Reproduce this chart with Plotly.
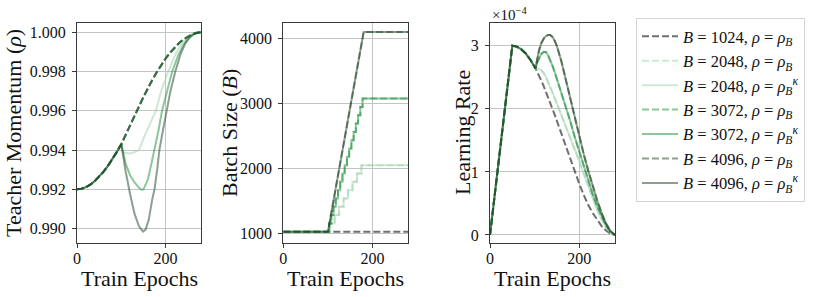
import plotly.graph_objects as go

# ---------------- data ----------------
# Panel 1: teacher momentum vs epochs
MOM_EPOCHS = [0, 10, 20, 30, 40, 50, 60, 70, 80, 90, 100, 110, 120, 130, 140, 150,
              160, 170, 180, 190, 200, 210, 220, 230, 240, 250, 260, 270, 280]
MOM_RHO_B = [0.99200, 0.99203, 0.99211, 0.99224, 0.99242, 0.99264, 0.99290, 0.99320,
             0.99354, 0.99391, 0.99430, 0.99476, 0.99523, 0.99572, 0.99622, 0.99670,
             0.99715, 0.99757, 0.99796, 0.99832, 0.99866, 0.99895, 0.99921, 0.99944,
             0.99963, 0.99978, 0.99990, 0.99997, 1.00000]

MOM_PRE_EPOCHS = [0, 10, 20, 30, 40, 50, 60, 70, 80, 90, 100]
MOM_PRE = [0.99200, 0.99203, 0.99211, 0.99224, 0.99242, 0.99264, 0.99290, 0.99320,
           0.99354, 0.99391, 0.99430]

MOM_K2048_EPOCHS = [104, 110, 120, 130, 140, 150, 160, 170, 178, 190, 206, 220, 230,
                    240, 250, 260, 270, 280]
MOM_K2048 = [0.99392, 0.99385, 0.99383, 0.99390, 0.99400, 0.99458, 0.99510, 0.99558,
             0.99600, 0.99700, 0.99800, 0.99875, 0.99920, 0.99953, 0.99975, 0.99990,
             0.99997, 1.00000]

MOM_K3072_EPOCHS = [110, 120, 130, 140, 146, 150, 160, 168, 175, 184, 192, 203, 215,
                    228, 240, 250, 260, 270, 280]
MOM_K3072 = [0.99330, 0.99272, 0.99235, 0.99208, 0.99198, 0.99200, 0.99250, 0.99330,
             0.99400, 0.99500, 0.99600, 0.99700, 0.99800, 0.99880, 0.99935, 0.99965,
             0.99985, 0.99996, 1.00000]

MOM_K4096_EPOCHS = [105, 110, 120, 130, 140, 149, 155, 162, 170, 175, 181, 186, 194,
                    202, 211, 222, 234, 245, 255, 265, 280]
MOM_K4096 = [0.99355, 0.99290, 0.99175, 0.99075, 0.99012, 0.98985, 0.98995, 0.99045,
             0.99150, 0.99200, 0.99300, 0.99400, 0.99500, 0.99600, 0.99700, 0.99800,
             0.99890, 0.99945, 0.99975, 0.99992, 1.00000]

# Panel 2: batch size vs epochs (step changes)
BS1024_EPOCHS = [0, 280]
BS1024 = [1024, 1024]
BS2048_EPOCHS = [0, 105, 115, 125, 135, 145, 155, 165, 175, 280]
BS2048 = [1024, 1152, 1280, 1408, 1536, 1664, 1792, 1920, 2048, 2048]
BS3072_EPOCHS = [0, 102.5, 107.5, 112.5, 117.5, 122.5, 127.5, 132.5, 137.5, 142.5,
                 147.5, 152.5, 157.5, 162.5, 167.5, 172.5, 177.5, 280]
BS3072 = [1024, 1152, 1280, 1408, 1536, 1664, 1792, 1920, 2048, 2176, 2304, 2432,
          2560, 2688, 2816, 2944, 3072, 3072]
BS4096_EPOCHS = [0, 100, 180, 280]
BS4096 = [1024, 1024, 4096, 4096]

# Panel 3: learning rate (in units of 1e-4) vs epochs
LR_EPOCHS = [0, 50, 60, 70, 80, 90, 100, 102, 105, 110, 115, 120, 125, 130, 135, 140,
             145, 150, 160, 170, 180, 190, 200, 210, 220, 230, 240, 250, 260, 270, 280]
LR1024 = [0.0, 3.000, 2.986, 2.944, 2.876, 2.782, 2.664, 2.637, 2.596, 2.524, 2.447,
          2.365, 2.279, 2.190, 2.097, 2.002, 1.905, 1.805, 1.602, 1.398, 1.195, 0.998,
          0.810, 0.635, 0.476, 0.350, 0.240, 0.140, 0.070, 0.020, 0.0]
LR2048 = [0.0, 3.000, 2.986, 2.944, 2.876, 2.782, 2.664, 2.637, 2.630, 2.630, 2.610,
          2.570, 2.510, 2.430, 2.350, 2.260, 2.170, 2.080, 1.900, 1.720, 1.550, 1.360,
          1.170, 0.970, 0.770, 0.580, 0.400, 0.250, 0.120, 0.040, 0.0]
LR3072 = [0.0, 3.000, 2.986, 2.944, 2.876, 2.782, 2.664, 2.637, 2.720, 2.810, 2.870,
          2.900, 2.900, 2.850, 2.770, 2.680, 2.580, 2.470, 2.250, 2.030, 1.800, 1.550,
          1.330, 1.080, 0.860, 0.650, 0.460, 0.290, 0.150, 0.050, 0.0]
LR4096 = [0.0, 3.000, 2.986, 2.944, 2.876, 2.782, 2.664, 2.637, 2.760, 2.930, 3.040,
          3.110, 3.150, 3.170, 3.170, 3.140, 3.080, 2.990, 2.750, 2.450, 2.150, 1.830,
          1.530, 1.280, 1.020, 0.780, 0.550, 0.350, 0.180, 0.060, 0.0]

LEGEND_LABELS = [
    "<i>B</i> = 1024, <i>ρ</i> = <i>ρ<sub>B</sub></i>",
    "<i>B</i> = 2048, <i>ρ</i> = <i>ρ<sub>B</sub></i>",
    "<i>B</i> = 2048, <i>ρ</i> = <i>ρ<sub>B</sub><sup>κ</sup></i>",
    "<i>B</i> = 3072, <i>ρ</i> = <i>ρ<sub>B</sub></i>",
    "<i>B</i> = 3072, <i>ρ</i> = <i>ρ<sub>B</sub><sup>κ</sup></i>",
    "<i>B</i> = 4096, <i>ρ</i> = <i>ρ<sub>B</sub></i>",
    "<i>B</i> = 4096, <i>ρ</i> = <i>ρ<sub>B</sub><sup>κ</sup></i>",
]

# ---------------- styling ----------------
W, H = 822, 297
FONT = "Liberation Serif"
C1024 = "rgba(55,55,55,0.72)"
C2048 = "rgba(159,209,173,0.5)"
C3072 = "rgba(27,141,57,0.5)"
C4096 = "rgba(27,63,33,0.5)"
DASH = "7px,3px"
LW = 2


def px_x(p):
    return p / W


def px_y(p):
    return 1 - p / H


DOMS_X = [(77, 201), (283.3, 408.3), (490, 615)]
DOM_Y = (px_y(243), px_y(23))

fig = go.Figure()


def mom_k(ep, vals):
    return MOM_PRE_EPOCHS + ep, MOM_PRE + vals


mom_series = [
    (MOM_EPOCHS, MOM_RHO_B, C1024, DASH),
    (MOM_EPOCHS, MOM_RHO_B, C2048, DASH),
    (*mom_k(MOM_K2048_EPOCHS, MOM_K2048), C2048, "solid"),
    (MOM_EPOCHS, MOM_RHO_B, C3072, DASH),
    (*mom_k(MOM_K3072_EPOCHS, MOM_K3072), C3072, "solid"),
    (MOM_EPOCHS, MOM_RHO_B, C4096, DASH),
    (*mom_k(MOM_K4096_EPOCHS, MOM_K4096), C4096, "solid"),
]
bs_series = [
    (BS1024_EPOCHS, BS1024, C1024, DASH, "linear"),
    (BS2048_EPOCHS, BS2048, C2048, DASH, "hv"),
    (BS2048_EPOCHS, BS2048, C2048, "solid", "hv"),
    (BS3072_EPOCHS, BS3072, C3072, DASH, "hv"),
    (BS3072_EPOCHS, BS3072, C3072, "solid", "hv"),
    (BS4096_EPOCHS, BS4096, C4096, DASH, "linear"),
    (BS4096_EPOCHS, BS4096, C4096, "solid", "linear"),
]
lr_series = [
    (LR_EPOCHS, LR1024, C1024, DASH),
    (LR_EPOCHS, LR2048, C2048, DASH),
    (LR_EPOCHS, LR2048, C2048, "solid"),
    (LR_EPOCHS, LR3072, C3072, DASH),
    (LR_EPOCHS, LR3072, C3072, "solid"),
    (LR_EPOCHS, LR4096, C4096, DASH),
    (LR_EPOCHS, LR4096, C4096, "solid"),
]

for i, (x, y, c, d) in enumerate(mom_series):
    fig.add_trace(go.Scatter(x=x, y=y, mode="lines", name=LEGEND_LABELS[i],
                             line=dict(color=c, dash=d, width=LW),
                             xaxis="x", yaxis="y", showlegend=True))
for i, (x, y, c, d, s) in enumerate(bs_series):
    fig.add_trace(go.Scatter(x=x, y=y, mode="lines", name=LEGEND_LABELS[i],
                             line=dict(color=c, dash=d, width=LW, shape=s),
                             xaxis="x2", yaxis="y2", showlegend=False))
for i, (x, y, c, d) in enumerate(lr_series):
    fig.add_trace(go.Scatter(x=x, y=y, mode="lines", name=LEGEND_LABELS[i],
                             line=dict(color=c, dash=d, width=LW),
                             xaxis="x3", yaxis="y3", showlegend=False))

axis_common = dict(showline=True, mirror=True, linecolor="#3a3a3a", linewidth=1,
                   showgrid=True, gridcolor="#c4c4c4", gridwidth=1, zeroline=False,
                   ticks="outside", ticklen=4, tickcolor="#3a3a3a", automargin=False,
                   tickfont=dict(family=FONT, size=16, color="#111111"))

layout = dict(width=W, height=H, margin=dict(l=0, r=0, t=0, b=0),
              paper_bgcolor="white", plot_bgcolor="white",
              font=dict(family=FONT, color="#111111"))
yranges = [[0.98927, 1.00047], [851, 4235], [-0.127, 3.36]]
ytickv = [[0.990, 0.992, 0.994, 0.996, 0.998, 1.000], [1000, 2000, 3000, 4000],
          [0, 1, 2, 3]]
ytickt = [["0.990", "0.992", "0.994", "0.996", "0.998", "1.000"],
          ["1000", "2000", "3000", "4000"], ["0", "1", "2", "3"]]
for k in range(3):
    sx = "" if k == 0 else str(k + 1)
    layout["xaxis" + sx] = dict(axis_common,
                                domain=[px_x(DOMS_X[k][0]), px_x(DOMS_X[k][1])],
                                range=[0, 280], tickvals=[0, 200], ticktext=["0", "200"],
                                ticklabelstandoff=-3, anchor="y" + sx)
    layout["yaxis" + sx] = dict(axis_common, domain=list(DOM_Y), range=yranges[k],
                                tickvals=ytickv[k], ticktext=ytickt[k],
                                ticklabelstandoff=3, anchor="x" + sx)

layout["legend"] = dict(x=px_x(636), y=px_y(18), xanchor="left", yanchor="top",
                        bordercolor="#d4d4d4", borderwidth=1, bgcolor="white",
                        font=dict(family=FONT, size=16.5, color="#111111"),
                        itemwidth=36, tracegroupgap=0)

ann = []
ytitles = ["Teacher Momentum (<i>ρ</i>)", "Batch Size (<i>B</i>)", "Learning Rate"]
ytitle_x = [13, 229, 462]
for k in range(3):
    ann.append(dict(text=ytitles[k], x=px_x(ytitle_x[k]), y=px_y(133), xref="paper",
                    yref="paper", showarrow=False, textangle=-90,
                    font=dict(family=FONT, size=22, color="#111111"),
                    xanchor="center", yanchor="middle"))
    cx = (DOMS_X[k][0] + DOMS_X[k][1]) / 2
    ann.append(dict(text="Train Epochs", x=px_x(cx), y=px_y(278), xref="paper",
                    yref="paper", showarrow=False,
                    font=dict(family=FONT, size=22, color="#111111"),
                    xanchor="center", yanchor="middle"))
ann.append(dict(text="×10<sup>−4</sup>", x=px_x(490), y=px_y(14), xref="paper",
                yref="paper", showarrow=False, xanchor="left", yanchor="middle",
                font=dict(family=FONT, size=15, color="#111111")))
layout["annotations"] = ann

fig.update_layout(**layout)
fig.write_html("out.html",
               config={"displayModeBar": False, "staticPlot": True},
               post_script="document.body.style.margin='0px';"
                           "document.body.style.padding='0px';")
